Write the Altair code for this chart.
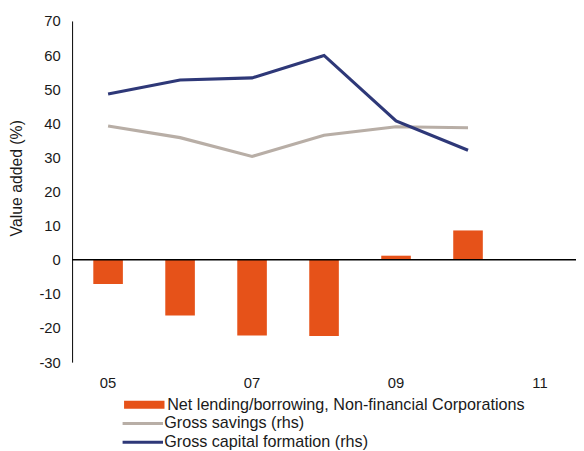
import altair as alt
import pandas as pd

years = ["05", "06", "07", "08", "09", "10"]
all_years = ["05", "06", "07", "08", "09", "10", "11"]
net_lending = [-7.1, -16.3, -22.2, -22.3, 1.2, 8.6]
gross_savings = [39.2, 35.8, 30.3, 36.5, 39.0, 38.7]
gross_cap = [48.6, 52.7, 53.3, 59.9, 40.7, 32.1]

bar_name = "Net lending/borrowing, Non-financial Corporations"
gs_name = "Gross savings (rhs)"
gcf_name = "Gross capital formation (rhs)"

ORANGE = "#E65219"
GRAY = "#B8AEA6"
NAVY = "#2E3878"
FONT = "Liberation Sans"
TXT = "#1a1a1a"

bars = pd.DataFrame({"year": years, "value": net_lending, "series": bar_name})
lines = pd.DataFrame({
    "year": years * 2,
    "value": gross_savings + gross_cap,
    "series": [gs_name] * len(years) + [gcf_name] * len(years),
})
zero = pd.DataFrame({"value": [0]})

xscale = alt.Scale(domain=all_years, paddingInner=0, paddingOuter=0)
yscale = alt.Scale(domain=[-30, 70], nice=False, zero=False)

x_enc = alt.X("year:O", scale=xscale, sort=all_years,
              axis=alt.Axis(title=None, values=["05", "07", "09", "11"], labelAngle=0,
                            ticks=False, domain=False, labelPadding=14,
                            labelFontSize=15, labelFont=FONT, labelColor=TXT))
y_enc = alt.Y("value:Q", scale=yscale,
              axis=alt.Axis(title="Value added (%)", values=list(range(-30, 80, 10)),
                            labelExpr="'' + datum.value",
                            grid=False, ticks=False, domainColor="#000000", domainWidth=1,
                            labelPadding=12, labelFontSize=15, labelFont=FONT,
                            labelColor=TXT, titleFont=FONT, titleFontSize=16,
                            titleFontWeight="normal", titleColor=TXT,
                            titleAngle=-90, titleAlign="center", titleBaseline="bottom",
                            titleX=-48, titleY=159))

bar_layer = alt.Chart(bars).mark_bar(size=30).encode(
    x=x_enc,
    y=y_enc,
    fill=alt.Fill("series:N", scale=alt.Scale(domain=[bar_name], range=[ORANGE]),
                  legend=alt.Legend(title=None, orient="none", legendX=65, legendY=381,
                                    symbolType="M-4.1,-0.8H4.1V0.8H-4.1Z", symbolSize=100,
                                    symbolStrokeWidth=0,
                                    labelFontSize=16.4, labelFont=FONT, labelColor=TXT,
                                    padding=0, labelOffset=15, labelLimit=600)),
)

zero_rule = alt.Chart(zero).mark_rule(color="#000000", strokeWidth=1.5).encode(
    y=y_enc
)

line_layer = alt.Chart(lines).mark_line(strokeWidth=3.2).encode(
    x=x_enc,
    y=y_enc,
    stroke=alt.Stroke("series:N", scale=alt.Scale(domain=[gs_name, gcf_name], range=[GRAY, NAVY]),
                      sort=[gs_name, gcf_name],
                      legend=alt.Legend(title=None, orient="none", legendX=63.5, legendY=400,
                                        symbolType="M-4.1,0H4.1", symbolSize=100,
                                        symbolStrokeWidth=3, symbolFillColor="transparent",
                                        labelFontSize=16.4, labelFont=FONT, labelColor=TXT,
                                        padding=0, rowPadding=2, labelOffset=13.5, labelLimit=600)),
    detail="series:N",
)

chart = alt.layer(bar_layer, zero_rule, line_layer).resolve_scale(
    fill="independent", stroke="independent"
).properties(
    width=511, height=346,
    autosize=alt.AutoSizeParams(type="none"),
    padding={"left": 65, "top": 10, "right": 0, "bottom": 90},
).configure_view(stroke=None)

chart.save("out.html", embed_options={"renderer": "svg", "actions": False})
